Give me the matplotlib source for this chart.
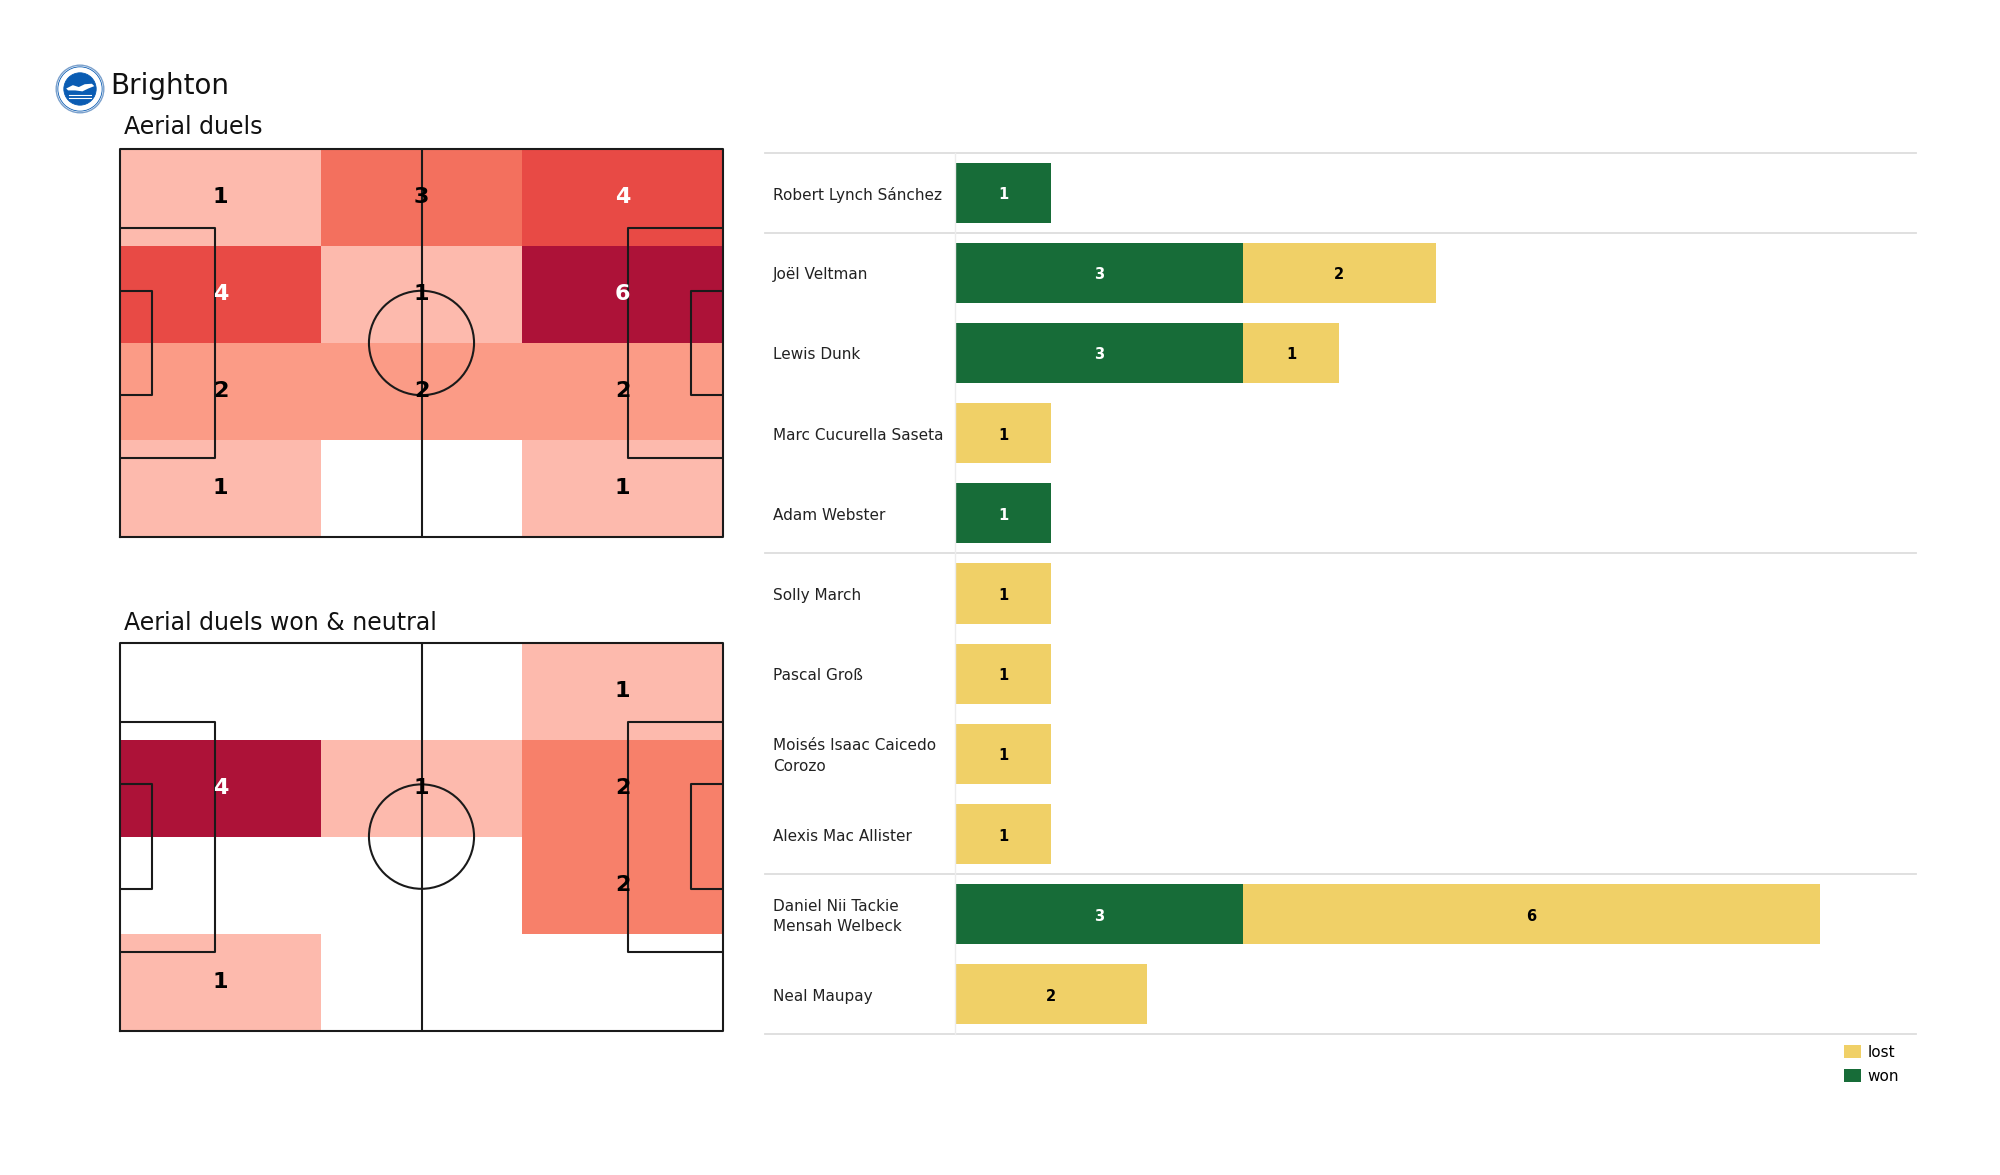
import matplotlib
matplotlib.use('Agg')
import matplotlib.pyplot as plt
import numpy as np
from matplotlib.patches import Rectangle, Circle, Polygon, Patch
from matplotlib.colors import LinearSegmentedColormap, Normalize
from matplotlib.lines import Line2D
import matplotlib.transforms as mtransforms

# ---------------- data ----------------
team = "Brighton"
title_all = "Aerial duels"
title_won = "Aerial duels won & neutral"

# zone counts: rows top -> bottom, columns left -> right (3 x 4 grid)
aerial_all = [[1, 3, 4],
              [4, 1, 6],
              [2, 2, 2],
              [1, 0, 1]]
aerial_won = [[0, 0, 1],
              [4, 1, 2],
              [0, 0, 2],
              [1, 0, 0]]

players = ["Robert Lynch Sánchez",
           "Joël Veltman", "Lewis Dunk", "Marc Cucurella Saseta", "Adam Webster",
           "Solly March", "Pascal Groß", "Moisés Isaac Caicedo\nCorozo", "Alexis Mac Allister",
           "Daniel Nii Tackie\nMensah Welbeck", "Neal Maupay"]
won = [1, 3, 3, 0, 1, 0, 0, 0, 0, 3, 0]
lost = [0, 2, 1, 1, 0, 1, 1, 1, 1, 6, 2]
group_sizes = [1, 4, 4, 2]

# ---------------- style ----------------
GREEN = '#176c38'
YELLOW = '#f0d067'
LINE = '#dddddd'
cmap = LinearSegmentedColormap.from_list(
    'aerial', [(0.0, '#fdbaad'), (0.2, '#fb9b86'), (0.333, '#f7806a'),
               (0.4, '#f3705e'), (0.6, '#e84a45'), (1.0, '#ad1238')])

fig = plt.figure(figsize=(20, 11.75), dpi=100)
fig.patch.set_facecolor('white')

PL, PW = 105.0, 68.0


def draw_pitch(ax, counts):
    arr = np.array(counts, dtype=float)
    nz = arr[arr > 0]
    vmin, vmax = nz.min(), nz.max()
    norm = Normalize(vmin=vmin, vmax=vmax)
    xe = np.linspace(0, PL, arr.shape[1] + 1)
    ye = np.linspace(0, PW, arr.shape[0] + 1)
    data = np.ma.masked_equal(np.flipud(arr), 0)
    ax.pcolormesh(xe, ye, data, cmap=cmap, norm=norm, zorder=1)
    lc = '#1a1a1a'
    lw = 1.5
    kw = dict(color=lc, lw=lw, zorder=3, solid_capstyle='projecting')
    # outline
    ax.plot([0, PL, PL, 0, 0], [0, 0, PW, PW, 0], clip_on=False, **kw)
    ax.plot([PL / 2, PL / 2], [0, PW], **kw)
    ax.add_patch(Circle((PL / 2, PW / 2), 9.15, fill=False, ec=lc, lw=lw, zorder=3))
    for x0, d in [(0, 1), (PL, -1)]:
        ax.plot([x0, x0 + d * 16.5, x0 + d * 16.5, x0],
                [PW / 2 - 20.16, PW / 2 - 20.16, PW / 2 + 20.16, PW / 2 + 20.16], **kw)
        ax.plot([x0, x0 + d * 5.5, x0 + d * 5.5, x0],
                [PW / 2 - 9.16, PW / 2 - 9.16, PW / 2 + 9.16, PW / 2 + 9.16], **kw)
    nrow, ncol = arr.shape
    for r in range(nrow):
        for c in range(ncol):
            v = arr[r, c]
            if v <= 0:
                continue
            xc = (xe[c] + xe[c + 1]) / 2
            yc = PW - (r + 0.5) * PW / nrow
            col = 'white' if norm(v) > 0.5 else 'black'
            ax.text(xc, yc, f"{int(v)}", ha='center', va='center', fontsize=16,
                    fontweight='bold', color=col, zorder=4)
    ax.set_xlim(0, PL)
    ax.set_ylim(0, PW)
    ax.set_aspect('auto')
    ax.axis('off')


ax1 = fig.add_axes([0.0600, 0.5430, 0.3015, 0.3302])
draw_pitch(ax1, aerial_all)
ax2 = fig.add_axes([0.0600, 0.1229, 0.3015, 0.3302])
draw_pitch(ax2, aerial_won)

fig.text(0.055, 0.9265, team, fontsize=20, va='center', ha='left', color='#111111')
fig.text(0.062, 0.8915, title_all, fontsize=17, va='center', ha='left', color='#111111')
fig.text(0.062, 0.4702, title_won, fontsize=17, va='center', ha='left', color='#111111')

# ---------------- logo ----------------
axl = fig.add_axes([0.0275, 0.9030, 0.025, 0.04255])
axl.set_xlim(-1.05, 1.05)
axl.set_ylim(-1.05, 1.05)
axl.set_aspect('equal')
axl.axis('off')
BLUE = '#0a5cb3'
axl.add_patch(Circle((0, 0), 1.0, fc='white', ec='#7aa0cc', lw=1.0))
axl.add_patch(Circle((0, 0), 0.93, fc='white', ec=BLUE, lw=0.6))
axl.add_patch(Circle((0, 0), 0.68, fc=BLUE, ec=BLUE, lw=0.6))
axl.add_patch(Polygon([(-0.58, 0.02), (-0.3, 0.16), (-0.05, 0.08), (0.2, 0.2),
                       (0.5, 0.22), (0.6, 0.12), (0.35, 0.02), (0.1, -0.1),
                       (-0.2, -0.06), (-0.5, -0.06)], closed=True, fc='white', ec='none'))
for yy in [-0.25, -0.38]:
    axl.plot([-0.45, 0.45], [yy, yy], color='white', lw=0.8)

# ---------------- bar chart ----------------
axb = fig.add_axes([0.4775, 0.1196, 0.4805, 0.7506])
y = np.arange(len(players))
won_a = np.array(won)
lost_a = np.array(lost)
axb.barh(y, won_a, height=0.75, color=GREEN, label='won', zorder=2)
axb.barh(y, lost_a, left=won_a, height=0.75, color=YELLOW, label='lost', zorder=2)
shift = mtransforms.ScaledTranslation(0, -2.0 / 100, fig.dpi_scale_trans)
for i in range(len(players)):
    if won_a[i] > 0:
        axb.text(won_a[i] / 2, y[i], str(won_a[i]), ha='center', va='center',
                 fontsize=10.5, fontweight='bold', color='white', zorder=3,
                 transform=axb.transData + shift)
    if lost_a[i] > 0:
        axb.text(won_a[i] + lost_a[i] / 2, y[i], str(lost_a[i]), ha='center', va='center',
                 fontsize=10.5, fontweight='bold', color='black', zorder=3,
                 transform=axb.transData + shift)
axb.set_xlim(0, 10)
axb.set_ylim(len(players) - 0.5, -0.5)
axb.set_xticks([])
axb.set_yticks([])
for s in ['top', 'right', 'bottom']:
    axb.spines[s].set_visible(False)
axb.spines['left'].set_color('#ececec')
axb.spines['left'].set_linewidth(1.0)

trans = mtransforms.blended_transform_factory(fig.transFigure, axb.transData)
for i, name in enumerate(players):
    axb.text(0.3865, y[i], name, transform=trans + shift, ha='left', va='center',
             fontsize=11, color='#222222', linespacing=1.45)

bounds = np.concatenate([[0], np.cumsum(group_sizes)]) - 0.5
for b in bounds:
    axb.add_line(Line2D([0.3825, 0.958], [b, b], transform=trans, color=LINE,
                        lw=1.3, clip_on=False, zorder=1))

handles = [Patch(facecolor=YELLOW, label='lost'), Patch(facecolor=GREEN, label='won')]
fig.legend(handles=handles, loc='upper left', bbox_to_anchor=(0.922, 0.1110),
           bbox_transform=fig.transFigure,
           frameon=False, fontsize=11, handlelength=1.1, handleheight=1.0,
           handletextpad=0.45, labelspacing=0.6, borderaxespad=0, borderpad=0)

fig.savefig('out.png', dpi=100, facecolor='white')
